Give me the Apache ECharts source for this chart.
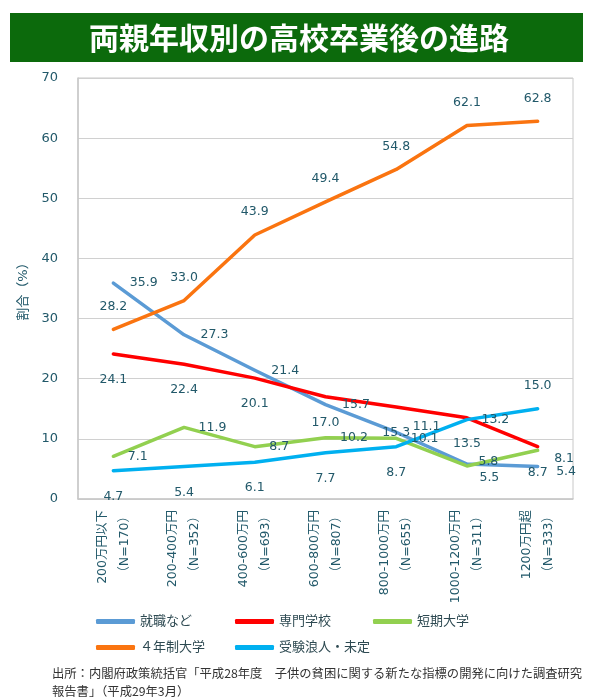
<!DOCTYPE html>
<html>
<head>
<meta charset="utf-8">
<script src="https://cdn.jsdelivr.net/npm/echarts@6/dist/echarts.min.js"></script>
<style>
  html, body { margin: 0; padding: 0; background: #fff; }
  #main { width: 594px; height: 699px; }
</style>
</head>
<body>
<div id="main"></div>
<script>
// 年収区分とサンプル数
const incomeBands = ['200万円以下', '200-400万円', '400-600万円', '600-800万円', '800-1000万円', '1000-1200万円', '1200万円超']
const sampleSizes = ['（N=170）', '（N=352）', '（N=693）', '（N=807）', '（N=655）', '（N=311）', '（N=333）']

// 進路別の割合(%)
const employment = [35.9, 27.3, 21.4, 15.7, 11.1, 5.8, 5.4]
const vocational = [24.1, 22.4, 20.1, 17.0, 15.3, 13.5, 8.7]
const juniorCollege = [7.1, 11.9, 8.7, 10.2, 10.1, 5.5, 8.1]
const university = [28.2, 33.0, 43.9, 49.4, 54.8, 62.1, 62.8]
const undecided = [4.7, 5.4, 6.1, 7.7, 8.7, 13.2, 15.0]

const yTicks = { min: 0, max: 70, interval: 10 }

const textColor = '#22596a'
const fontFamily = '"DejaVu Sans", "Noto Sans CJK JP", sans-serif'

// 系列ごとのラベル位置（元の図に合わせて一部だけずらす）
// place: dataIndex -> ラベル位置の上書き, nudge: dataIndex -> [dx, dy]
const seriesDefs = [
  { name: '就職など', data: employment, color: '#5B9BD5', position: 'right', distance: 16,
    place: {}, nudge: { 4: [0, -5], 5: [-5, -2], 6: [2, 5] } },
  { name: '専門学校', data: vocational, color: '#FF0000', position: 'bottom', distance: 19,
    place: {}, nudge: {} },
  { name: '短期大学', data: juniorCollege, color: '#92D050', position: 'right', distance: 14,
    place: {}, nudge: { 5: [-2, 12], 6: [2, 8] } },
  { name: '４年制大学', data: university, color: '#FA7410', position: 'top', distance: 16,
    place: {}, nudge: {} },
  { name: '受験浪人・未定', data: undecided, color: '#00B0F0', position: 'bottom', distance: 19,
    place: { 5: { position: 'right', distance: 14 }, 6: { position: 'top', distance: 16 } }, nudge: {} }
]

const chart = echarts.init(document.getElementById('main'), null, { renderer: 'canvas' })

const series = seriesDefs.map(s => ({
  name: s.name,
  type: 'line',
  color: s.color,
  symbol: 'circle',
  symbolSize: 1,
  showSymbol: true,
  itemStyle: { color: s.color },
  lineStyle: { width: 3.5, color: s.color, cap: 'round', join: 'round' },
  label: {
    show: true,
    position: s.position,
    distance: s.distance,
    color: textColor,
    fontSize: 12.5,
    fontFamily: fontFamily,
    formatter: p => Number(p.value).toFixed(1)
  },
  labelLayout: p => {
    const n = s.nudge[p.dataIndex]
    return n ? { dx: n[0], dy: n[1], hideOverlap: false } : { hideOverlap: false }
  },
  data: s.data.map((v, i) => s.place[i] ? { value: v, label: s.place[i] } : v),
  z: 2
}))

const legendCommon = {
  orient: 'vertical',
  icon: 'roundRect',
  itemWidth: 39,
  itemHeight: 5,
  itemGap: 13,
  padding: 0,
  textStyle: { color: '#2e4a52', fontSize: 13, fontFamily: fontFamily }
}

const option = {
  backgroundColor: '#ffffff',
  animation: false,
  textStyle: { fontFamily: fontFamily },
  graphic: [
    {
      type: 'rect',
      shape: { x: 10, y: 13, width: 573, height: 49 },
      style: { fill: '#0c6a0c' }
    },
    {
      type: 'text',
      x: 299, y: 38,
      style: {
        text: '両親年収別の高校卒業後の進路',
        fill: '#ffffff',
        font: 'bold 30px "Noto Sans CJK JP", sans-serif',
        align: 'center',
        verticalAlign: 'middle'
      }
    },
    {
      type: 'text',
      x: 52, y: 664,
      style: {
        text: '出所：内閣府政策統括官「平成28年度　子供の貧困に関する新たな指標の開発に向けた調査研究\n報告書」（平成29年3月）',
        fill: '#333333',
        font: '12.3px "Noto Sans CJK JP", sans-serif',
        lineHeight: 18
      }
    }
  ],
  legend: [
    Object.assign({ data: ['就職など', '４年制大学'], left: 96, top: 615 }, legendCommon),
    Object.assign({ data: ['専門学校', '受験浪人・未定'], left: 235, top: 615 }, legendCommon),
    Object.assign({ data: ['短期大学'], left: 373, top: 615 }, legendCommon)
  ],
  grid: {
    left: 78,
    right: 21,
    top: 78,
    bottom: 200,
    show: true,
    borderColor: '#c8c8c8',
    borderWidth: 1
  },
  xAxis: {
    type: 'category',
    data: incomeBands,
    boundaryGap: true,
    axisLine: { lineStyle: { color: '#c8c8c8', width: 1.5 } },
    axisTick: { show: false },
    axisLabel: {
      rotate: 90,
      margin: 11,
      interval: 0,
      color: textColor,
      fontSize: 12.5,
      lineHeight: 22,
      fontFamily: fontFamily,
      formatter: (v, i) => v + '\n' + sampleSizes[i]
    }
  },
  yAxis: {
    type: 'value',
    min: yTicks.min,
    max: yTicks.max,
    interval: yTicks.interval,
    name: '割合（%）',
    nameLocation: 'middle',
    nameRotate: 90,
    nameGap: 35,
    nameTextStyle: { color: textColor, fontSize: 13, fontFamily: fontFamily },
    axisLine: { show: true, lineStyle: { color: '#c8c8c8', width: 1.5 } },
    axisTick: { show: false },
    axisLabel: { color: textColor, fontSize: 13, margin: 20, fontFamily: fontFamily },
    splitLine: { lineStyle: { color: '#d0d0d0', width: 1 } }
  },
  series: series
}

chart.setOption(option)
</script>
</body>
</html>
